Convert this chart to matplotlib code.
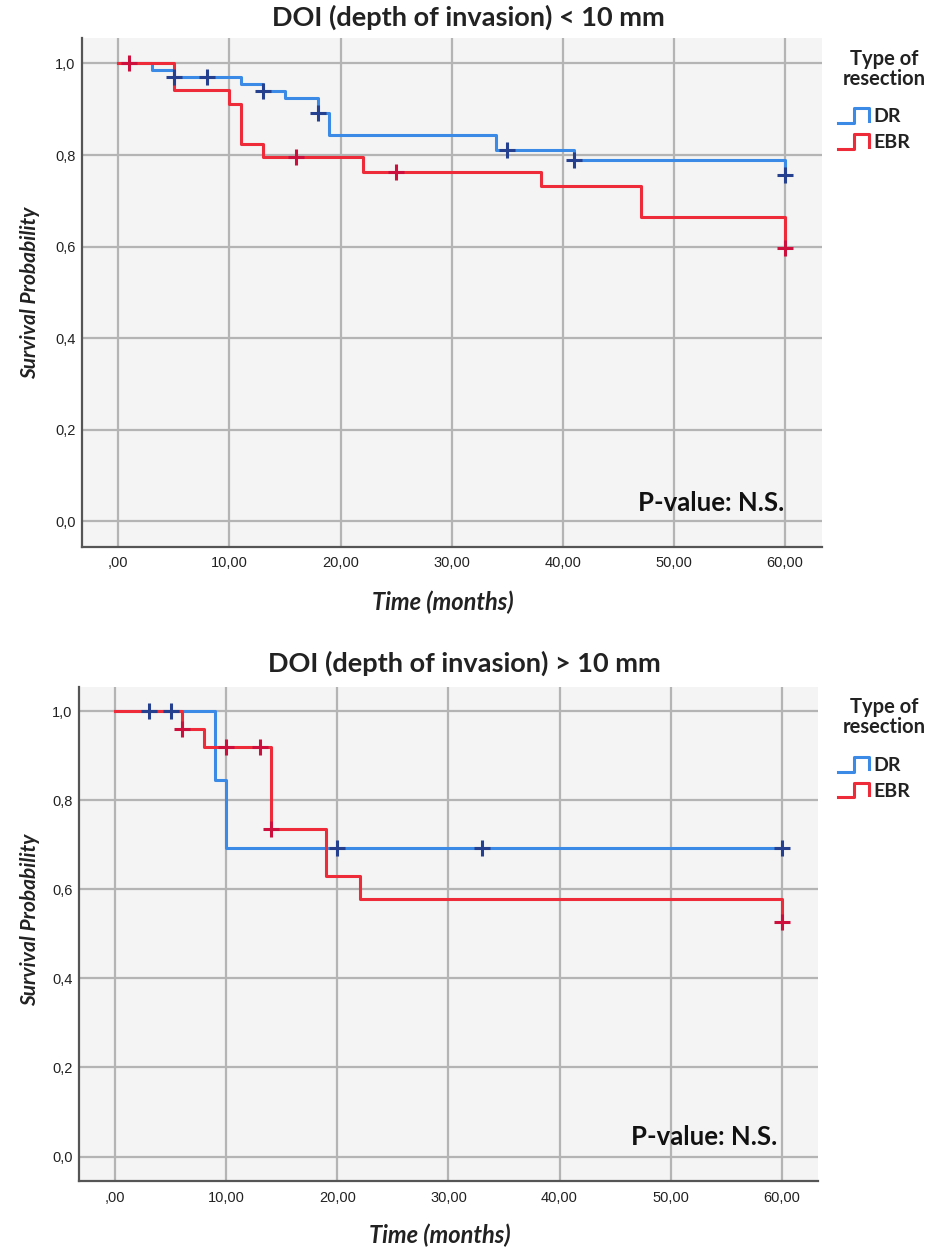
"""
Kaplan-Meier curves: DR vs EBR, split by depth of invasion
"""

import numpy as np
import matplotlib
matplotlib.use('Agg')
import matplotlib.pyplot as plt
from matplotlib.lines import Line2D
from matplotlib.legend_handler import HandlerBase
from matplotlib.ticker import FuncFormatter

# --- data (time in months, survival after the step) ---
END_TIME = 60

# DOI < 10 mm
top_dr_t = [0, 3, 5, 11, 13, 15, 18, 19, 34, 41, 60]
top_dr_s = [1.0, 0.985, 0.970, 0.955, 0.940, 0.925, 0.892, 0.843, 0.810, 0.790, 0.757]
top_dr_cens = [5, 8, 13, 18, 35, 41, 60]

top_ebr_t = [0, 5, 10, 11, 13, 22, 38, 47, 60]
top_ebr_s = [1.0, 0.941, 0.911, 0.824, 0.795, 0.764, 0.732, 0.664, 0.597]
top_ebr_cens = [1, 16, 25, 60]

# DOI > 10 mm
bot_dr_t = [0, 9, 10]
bot_dr_s = [1.0, 0.846, 0.692]
bot_dr_cens = [3, 5, 20, 33, 60]

bot_ebr_t = [0, 6, 8, 14, 19, 22, 60]
bot_ebr_s = [1.0, 0.960, 0.920, 0.736, 0.631, 0.578, 0.526]
bot_ebr_cens = [6, 10, 13, 14, 60]

groups = ['DR', 'EBR']
titles = ['DOI (depth of invasion) < 10 mm', 'DOI (depth of invasion) > 10 mm']

LINE_COL = {'DR': '#3a8ae6', 'EBR': '#ee2b38'}
CENS_COL = {'DR': '#24408e', 'EBR': '#cc0f3c'}
BG = '#f4f4f4'
GRID = '#b4b4b4'

TEXT_FONT = ['Lato', 'DejaVu Sans']
TICK_FONT = ['Liberation Sans', 'DejaVu Sans']

FIG_W, FIG_H = 930, 1247


class StepHandler(HandlerBase):
    """legend key drawn as a small step, like SPSS"""
    def create_artists(self, legend, orig_handle, xdescent, ydescent,
                       width, height, fontsize, trans):
        x0, x1 = -xdescent, -xdescent + width
        y0, y1 = -ydescent, -ydescent + height
        xm = (x0 + x1) / 2
        xs = [x0, xm, xm, x1, x1]
        ys = [y0, y0, y1, y1, y0 + 0.15 * height]
        ln = Line2D(xs, ys, color=orig_handle.get_color(), lw=2.2,
                    transform=trans)
        return [ln]


def survival_at(t_steps, s_steps, t):
    idx = np.searchsorted(t_steps, t, side='right') - 1
    return np.asarray(s_steps)[idx]


def draw_km(ax, t_steps, s_steps, cens, group):
    t = list(t_steps)
    s = list(s_steps)
    if t[-1] < END_TIME:
        t.append(END_TIME)
        s.append(s[-1])
    ax.step(t, s, where='post', color=LINE_COL[group], lw=2.2, zorder=3)
    cy = survival_at(t_steps, s_steps, cens)
    ax.plot(cens, cy, linestyle='none', marker='+', markersize=11,
            markeredgewidth=2.2, color=CENS_COL[group], zorder=4)


def style_axes(fig, ax, title, title_pos, ylab, pval):
    ax.set_facecolor(BG)
    ax.set_xlim(-3.3, 63.3)
    ax.set_ylim(-0.055, 1.055)
    ax.set_xticks(np.arange(0, 61, 10))
    ax.set_yticks(np.arange(0, 1.01, 0.2))
    ax.xaxis.set_major_formatter(FuncFormatter(
        lambda v, p: ',00' if v == 0 else f'{v:.2f}'.replace('.', ',')))
    ax.yaxis.set_major_formatter(FuncFormatter(
        lambda v, p: f'{v:.1f}'.replace('.', ',')))
    ax.grid(True, color=GRID, lw=1.6, zorder=0)
    ax.set_axisbelow(True)
    for side in ['top', 'right']:
        ax.spines[side].set_visible(False)
    for side in ['left', 'bottom']:
        ax.spines[side].set_color('#555555')
        ax.spines[side].set_linewidth(1.6)
    ax.tick_params(length=0, labelsize=10.5, labelcolor='#222222')
    ax.tick_params(axis='x', pad=7)
    ax.tick_params(axis='y', pad=4.5)
    for lab in ax.get_xticklabels() + ax.get_yticklabels():
        lab.set_family(TICK_FONT)

    ax.set_xlabel('Time (months)', family=TEXT_FONT, fontsize=17,
                  fontweight='bold', style='italic', color='#222222')
    ax.set_ylabel('Survival Probability', family=TEXT_FONT, fontsize=15,
                  fontweight='bold', style='italic', color='#222222')
    ax.xaxis.set_label_coords(0.488, -0.087)
    ax.yaxis.set_label_coords(*ylab)

    # title centre sits a fixed number of pixels above the axes
    pos = ax.get_position()
    fig.text(pos.x0 + title_pos[0] * pos.width,
             pos.y1 + title_pos[1] / FIG_H, title,
             ha='center', va='center', family=TEXT_FONT, fontsize=19.5,
             fontweight='bold', color='#222222')
    ax.text(pval[0], pval[1], 'P-value: N.S.', transform=ax.transAxes,
            ha='right', va='center', family=TEXT_FONT, fontsize=18.5,
            fontweight='bold', color='#111111')

    # legend: title as its own text, entries as a legend below it
    fig.text(884 / FIG_W, pos.y1 - 30.5 / FIG_H, 'Type of\nresection',
             ha='center', va='center', multialignment='center',
             family=TEXT_FONT, fontsize=14.5, fontweight='bold',
             color='#222222', linespacing=1.0)
    handles = [Line2D([], [], color=LINE_COL[g]) for g in groups]
    fig.legend(handles, groups, handler_map={Line2D: StepHandler()},
               loc='center left',
               bbox_to_anchor=(838 / FIG_W, pos.y1 - 91.5 / FIG_H),
               frameon=False, borderpad=0, borderaxespad=0,
               prop={'family': TEXT_FONT, 'size': 14, 'weight': 'bold'},
               handlelength=1.6, handleheight=0.8, handletextpad=0.2,
               labelspacing=0.45, labelcolor='#222222')


fig = plt.figure(figsize=(FIG_W / 100, FIG_H / 100), dpi=100)
ax_top = fig.add_axes([0.0878, 0.5616, 0.7957, 0.4077])
ax_bot = fig.add_axes([0.0846, 0.0529, 0.7953, 0.3964])

draw_km(ax_top, top_dr_t, top_dr_s, top_dr_cens, 'DR')
draw_km(ax_top, top_ebr_t, top_ebr_s, top_ebr_cens, 'EBR')
draw_km(ax_bot, bot_dr_t, bot_dr_s, bot_dr_cens, 'DR')
draw_km(ax_bot, bot_ebr_t, bot_ebr_s, bot_ebr_cens, 'EBR')

style_axes(fig, ax_top, titles[0], (0.522, 21), (-0.056, 0.5), (0.950, 0.086))
style_axes(fig, ax_bot, titles[1], (0.521, 23), (-0.052, 0.528), (0.944, 0.089))

fig.savefig('out.png', dpi=100, facecolor='white')
